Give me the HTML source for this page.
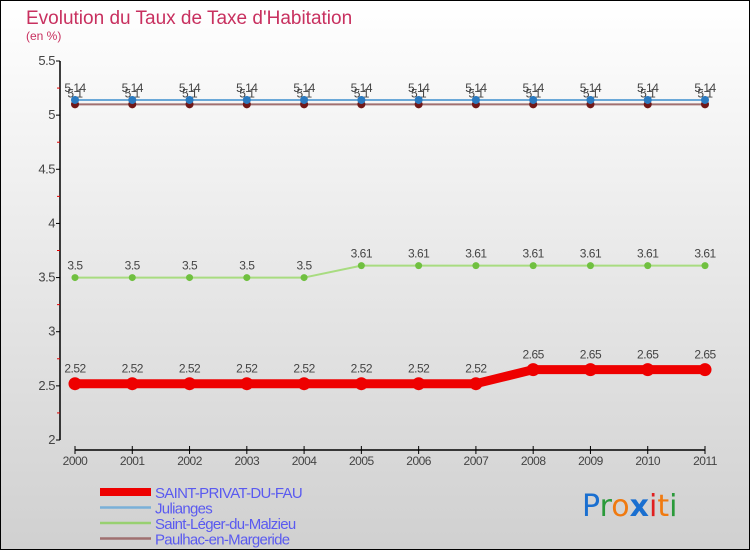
<!DOCTYPE html>
<html><head><meta charset="utf-8"><style>
body{margin:0;width:750px;height:550px;overflow:hidden}
svg{display:block;font-family:"Liberation Sans",sans-serif}
</style></head><body>
<svg id="c" width="750" height="550" viewBox="0 0 750 550">
<defs><linearGradient id="bg" x1="0" y1="0" x2="0" y2="1"><stop offset="0" stop-color="#ffffff"/><stop offset="1" stop-color="#d0d0d0"/></linearGradient></defs>
<rect x="0.5" y="0.5" width="749" height="549" fill="url(#bg)" stroke="#000"/>
<text x="26" y="24" font-size="19" fill="#c8305f">Evolution du Taux de Taxe d'Habitation</text>
<text x="26" y="40" font-size="12" fill="#c8305f">(en %)</text>
<g id="axes"></g><g id="series"></g><g id="legend"></g>
<text x="582" y="516" font-size="30" font-family="'DejaVu Sans',sans-serif"><tspan fill="#1a6fd0">P</tspan><tspan fill="#2a9a3a">r</tspan><tspan fill="#f07a10">o</tspan><tspan fill="#1a6fd0" font-weight="bold">x</tspan><tspan fill="#e02020">i</tspan><tspan fill="#f07a10">t</tspan><tspan fill="#2a9a3a">i</tspan></text>
</svg>
<script>
const years=[2000,2001,2002,2003,2004,2005,2006,2007,2008,2009,2010,2011];
const saintPrivat=[2.52,2.52,2.52,2.52,2.52,2.52,2.52,2.52,2.65,2.65,2.65,2.65];
const julianges=[5.14,5.14,5.14,5.14,5.14,5.14,5.14,5.14,5.14,5.14,5.14,5.14];
const saintLeger=[3.5,3.5,3.5,3.5,3.5,3.61,3.61,3.61,3.61,3.61,3.61,3.61];
const paulhac=[5.1,5.1,5.1,5.1,5.1,5.1,5.1,5.1,5.1,5.1,5.1,5.1];
const yTicks=[2,2.5,3,3.5,4,4.5,5,5.5];
const yTickLabels=["2","2.5","3","3.5","4","4.5","5","5.5"];
const NS="http://www.w3.org/2000/svg";
const X=i=>75+i*(630/(years.length-1));
const Y=v=>440-(v-2)*(379/3.5);
function mk(t,a,p){const e=document.createElementNS(NS,t);for(const k in a)e.setAttribute(k,a[k]);p.appendChild(e);return e;}
const ax=document.getElementById('axes');
const yl=mk('line',{x1:60,y1:61,x2:60,y2:440,stroke:'#000','stroke-width':1.5},ax);


yTicks.forEach((v,i)=>{
  mk('line',{x1:56,y1:Y(v),x2:60,y2:Y(v),stroke:'#000'},ax);
  if(i<yTicks.length-1){mk('line',{x1:57,y1:Y(v+0.25),x2:60,y2:Y(v+0.25),stroke:'#e00000'},ax);}
  const t=mk('text',{x:55,y:Y(v)+4,'font-size':13,'text-anchor':'end',fill:'#444','letter-spacing':'-0.5'},ax);
  t.textContent=yTickLabels[i];
  
  
});
const xl=mk('line',{x1:75,y1:450,x2:705,y2:450,stroke:'#000','stroke-width':1.5},ax);


years.forEach((y,i)=>{
  mk('line',{x1:X(i),y1:446,x2:X(i),y2:454,stroke:'#000'},ax);
  const t=mk('text',{x:X(i),y:465,'font-size':12,'text-anchor':'middle',fill:'#444','letter-spacing':'-0.5'},ax);
  t.textContent=y;
  
  
});
const sg=document.getElementById('series');
function series(vals,color,dot,w,r,name,labOff){
  const g=mk('g',{},sg);
  
  
  mk('polyline',{points:vals.map((v,i)=>X(i)+','+Y(v)).join(' '),fill:'none',stroke:color,'stroke-width':w,'stroke-linejoin':'round'},g);
  vals.forEach((v,i)=>{
    const c=mk('circle',{cx:X(i),cy:Y(v),r:r,fill:dot},g);
    
    
    const t=mk('text',{x:X(i),y:Y(v)-labOff,'font-size':12,'text-anchor':'middle',fill:'#444','letter-spacing':'-0.5'},g);
    t.textContent=v;
  });
}
series(saintLeger,'#a8dc80','#70c040',2,3.5,'series-saint-leger',8);
series(paulhac,'#a07070','#701818',2,4,'series-paulhac',7);
series(julianges,'#6aa8d8','#2a7ac0',2,4,'series-julianges',8);
series(saintPrivat,'#ee0000','#ee0000',9,6.5,'series-saint-privat',11);
const lg=document.getElementById('legend');
const items=[['SAINT-PRIVAT-DU-FAU','#ee0000',8],['Julianges','#7ab0d8',2.5],['Saint-Léger-du-Malzieu','#98d070',2.5],['Paulhac-en-Margeride','#a07070',2.5]];
items.forEach((it,i)=>{
  const y=492+i*15.5;
  const g=mk('g',{},lg);
  
  
  mk('line',{x1:100,y1:y,x2:151,y2:y,stroke:it[1],'stroke-width':it[2]},g);
  const t=mk('text',{x:155,y:y+6,'font-size':15,fill:'#5a5af0','letter-spacing':'-0.7'},g);
  t.textContent=it[0];
});
</script>
</body></html>
